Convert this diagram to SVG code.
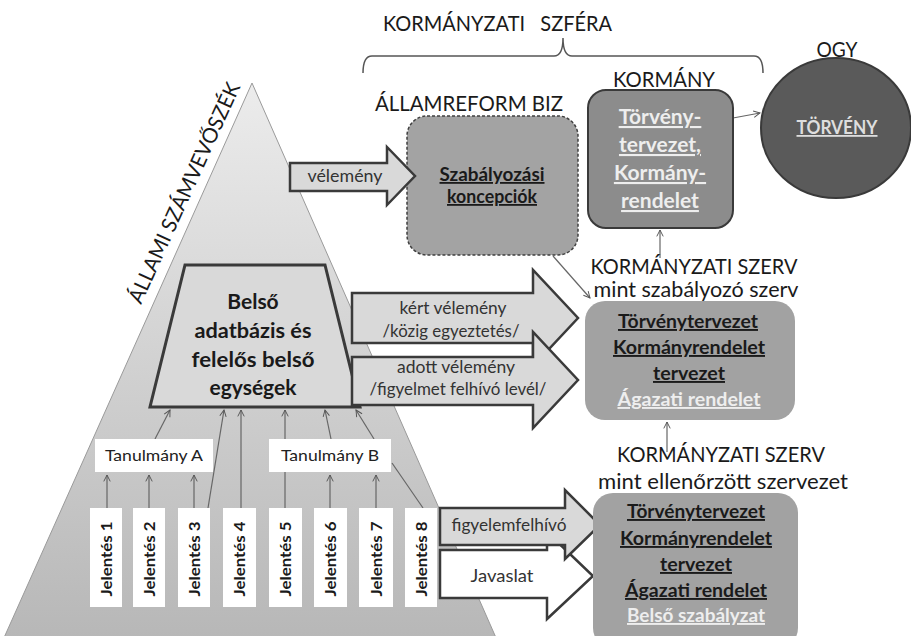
<svg xmlns="http://www.w3.org/2000/svg" width="911" height="636" viewBox="0 0 911 636">
<defs>
<linearGradient id="pyr" x1="0" y1="0" x2="0" y2="1">
<stop offset="0" stop-color="#ececec"/>
<stop offset="1" stop-color="#b7b7b7"/>
</linearGradient>
<marker id="ah" viewBox="0 0 10 10" refX="9" refY="5" markerWidth="8" markerHeight="8" orient="auto" markerUnits="userSpaceOnUse">
<path d="M1,1 L9,5 L1,9" fill="none" stroke="#555" stroke-width="1.2"/>
</marker>
<style>
text{font-family:Lato,"Open Sans","Liberation Sans",sans-serif;fill:#1a1a1a}
.big{font-size:21px;text-anchor:middle}
.ul{text-decoration:underline}
.wt{fill:#eeeeee}
.arr{fill:#d9d9d9;stroke:#3a3a3a;stroke-width:2.5;stroke-linejoin:miter}
.arrw{fill:#ffffff;stroke:#3a3a3a;stroke-width:2.5}
.atx{font-size:17px;fill:#333;text-anchor:middle}
.con{fill:none;stroke:#666;stroke-width:1.2}
.rep{fill:#fff}
.rtx{font-size:16px;font-weight:bold;text-anchor:middle}
.tan{font-size:15px;text-anchor:middle;fill:#222}
.bx{fill:#a2a2a2}
.btx{font-size:19px;font-weight:bold;text-anchor:middle;text-decoration:underline}
.kt{font-size:21px;font-weight:bold;text-anchor:middle;text-decoration:underline;fill:#eeeeee}
.bt{font-size:21px;font-weight:bold;text-anchor:middle}
</style>
</defs>
<rect width="911" height="636" fill="#fff"/>

<g id="pyramid">
<polygon points="252,83 497,640 3,640" fill="url(#pyr)" stroke="#9a9a9a" stroke-width="1"/>
<text transform="translate(141,305) rotate(-65.5)" font-size="21" textLength="240" lengthAdjust="spacingAndGlyphs">ÁLLAMI SZÁMVEVŐSZÉK</text>
</g>

<g id="sphere-title">
<text x="383" y="31" font-size="21" xml:space="preserve" textLength="229" lengthAdjust="spacingAndGlyphs">KORMÁNYZATI   SZFÉRA</text>
<path d="M363,73 Q363,56 372,56 L554,56 Q563,56 563,38 Q563,56 572,56 L754,56 Q763,56 763,73" fill="none" stroke="#555" stroke-width="1.5"/>
</g>

<g id="connectors">
<line class="con" x1="733" y1="118" x2="760" y2="113" marker-end="url(#ah)"/>
<line class="con" x1="660" y1="258" x2="660" y2="230" marker-end="url(#ah)"/>
<line class="con" x1="553" y1="256" x2="590" y2="298" marker-end="url(#ah)"/>
<line class="con" x1="667" y1="452" x2="667" y2="422" marker-end="url(#ah)"/>
<line class="con" x1="107" y1="508" x2="107" y2="475" marker-end="url(#ah)"/>
<line class="con" x1="149" y1="508" x2="149" y2="475" marker-end="url(#ah)"/>
<line class="con" x1="194" y1="508" x2="194" y2="475" marker-end="url(#ah)"/>
<line class="con" x1="330" y1="508" x2="330" y2="475" marker-end="url(#ah)"/>
<line class="con" x1="376" y1="508" x2="376" y2="475" marker-end="url(#ah)"/>
<line class="con" x1="208" y1="508" x2="224" y2="410" marker-end="url(#ah)"/>
<line class="con" x1="241" y1="508" x2="241" y2="410" marker-end="url(#ah)"/>
<line class="con" x1="285" y1="508" x2="285" y2="410" marker-end="url(#ah)"/>
<line class="con" x1="155" y1="439" x2="170" y2="410" marker-end="url(#ah)"/>
<line class="con" x1="331" y1="439" x2="325" y2="410" marker-end="url(#ah)"/>
<line class="con" x1="374" y1="439" x2="356" y2="410" marker-end="url(#ah)"/>
<line class="con" x1="392" y1="463" x2="423" y2="508"/>
</g>

<g id="allamreform">
<text x="469" y="111" class="big" textLength="188" lengthAdjust="spacingAndGlyphs">ÁLLAMREFORM BIZ</text>
<rect x="407" y="116" width="171" height="139" rx="20" fill="#a3a3a3" stroke="#404040" stroke-width="1.5" stroke-dasharray="3,2"/>
<text x="492" y="181" font-size="18" font-weight="bold" text-anchor="middle" class="ul" textLength="105" lengthAdjust="spacingAndGlyphs">Szabályozási</text>
<text x="492" y="203" font-size="18" font-weight="bold" text-anchor="middle" class="ul" textLength="90" lengthAdjust="spacingAndGlyphs">koncepciók</text>
</g>

<g id="kormany">
<text x="664" y="87" class="big" textLength="102" lengthAdjust="spacingAndGlyphs">KORMÁNY</text>
<rect x="588" y="90" width="145" height="138" rx="18" fill="#8c8c8c" stroke="#3a3a3a" stroke-width="2"/>
<text x="660" y="124" class="kt">Törvény-</text>
<text x="660" y="152" class="kt">tervezet,</text>
<text x="660" y="180" class="kt">Kormány-</text>
<text x="660" y="208" class="kt">rendelet</text>
</g>

<g id="ogy">
<text x="837" y="57" class="big" textLength="41" lengthAdjust="spacingAndGlyphs">OGY</text>
<ellipse cx="836" cy="128" rx="75" ry="70" fill="#5a5a5a" stroke="#3a3a3a" stroke-width="2"/>
<text x="837" y="134" font-size="18" font-weight="bold" text-anchor="middle" class="ul" style="fill:#dedede" textLength="81" lengthAdjust="spacingAndGlyphs">TÖRVÉNY</text>
</g>

<g id="arrow-velemeny">
<path class="arr" d="M290,163 L387,163 L387,147 L415,176 L387,205 L387,191 L290,191 Z"/>
<text x="345" y="182" class="atx" textLength="75" lengthAdjust="spacingAndGlyphs">vélemény</text>
</g>

<g id="belso">
<polygon points="185,265 325,265 360,407 150,407" fill="#d9d9d9" stroke="#3a3a3a" stroke-width="3"/>
<text x="253" y="309" class="bt">Belső</text>
<text x="253" y="338" class="bt" textLength="117" lengthAdjust="spacingAndGlyphs">adatbázis és</text>
<text x="253" y="367" class="bt" textLength="123" lengthAdjust="spacingAndGlyphs">felelős belső</text>
<text x="253" y="395" class="bt">egységek</text>
</g>

<g id="arrow-kert">
<path class="arr" d="M352,293 L533,293 L533,270 L578,318 L533,366 L533,343 L352,343 Z"/>
<text x="453" y="314" class="atx" textLength="107" lengthAdjust="spacingAndGlyphs">kért vélemény</text>
<text x="451" y="337" class="atx" textLength="137" lengthAdjust="spacingAndGlyphs">/közig egyeztetés/</text>
</g>
<g id="arrow-adott">
<path class="arr" d="M352,357 L533,357 L533,332 L578,380 L533,428 L533,405 L352,405 Z"/>
<text x="456" y="373" class="atx" textLength="118" lengthAdjust="spacingAndGlyphs">adott vélemény</text>
<text x="458" y="395" class="atx" textLength="177" lengthAdjust="spacingAndGlyphs">/figyelmet felhívó levél/</text>
</g>

<g id="tanulmany-a">
<rect x="95" y="439" width="118" height="33" class="rep"/>
<text x="154" y="461" class="tan" textLength="98" lengthAdjust="spacingAndGlyphs">Tanulmány A</text>
</g>
<g id="tanulmany-b">
<rect x="269" y="439" width="122" height="33" class="rep"/>
<text x="330" y="461" class="tan" textLength="98" lengthAdjust="spacingAndGlyphs">Tanulmány B</text>
</g>

<g id="jelentes-1"><rect x="90" y="508" width="32" height="99" class="rep"/><text transform="translate(112,559) rotate(-90)" class="rtx" textLength="75" lengthAdjust="spacingAndGlyphs">Jelentés 1</text></g>
<g id="jelentes-2"><rect x="133" y="508" width="32" height="99" class="rep"/><text transform="translate(155,559) rotate(-90)" class="rtx" textLength="75" lengthAdjust="spacingAndGlyphs">Jelentés 2</text></g>
<g id="jelentes-3"><rect x="178" y="508" width="32" height="99" class="rep"/><text transform="translate(200,559) rotate(-90)" class="rtx" textLength="75" lengthAdjust="spacingAndGlyphs">Jelentés 3</text></g>
<g id="jelentes-4"><rect x="223" y="508" width="33" height="99" class="rep"/><text transform="translate(245,559) rotate(-90)" class="rtx" textLength="75" lengthAdjust="spacingAndGlyphs">Jelentés 4</text></g>
<g id="jelentes-5"><rect x="269" y="508" width="33" height="99" class="rep"/><text transform="translate(291,559) rotate(-90)" class="rtx" textLength="75" lengthAdjust="spacingAndGlyphs">Jelentés 5</text></g>
<g id="jelentes-6"><rect x="314" y="508" width="33" height="99" class="rep"/><text transform="translate(336,559) rotate(-90)" class="rtx" textLength="75" lengthAdjust="spacingAndGlyphs">Jelentés 6</text></g>
<g id="jelentes-7"><rect x="359" y="508" width="34" height="99" class="rep"/><text transform="translate(382,559) rotate(-90)" class="rtx" textLength="75" lengthAdjust="spacingAndGlyphs">Jelentés 7</text></g>
<g id="jelentes-8"><rect x="405" y="508" width="32" height="99" class="rep"/><text transform="translate(427,559) rotate(-90)" class="rtx" textLength="75" lengthAdjust="spacingAndGlyphs">Jelentés 8</text></g>

<g id="arrow-javaslat">
<path class="arrw" d="M440,550 L547,550 L547,532 L593,576 L547,619 L547,598 L440,598 Z"/>
<text x="502" y="582" class="atx" textLength="63" lengthAdjust="spacingAndGlyphs">Javaslat</text>
</g>
<g id="arrow-figyelem">
<path class="arr" d="M440,508 L565,508 L565,490 L600,525 L565,559 L565,545 L440,545 Z"/>
<text x="509" y="531" class="atx" textLength="115" lengthAdjust="spacingAndGlyphs">figyelemfelhívó</text>
</g>

<g id="szerv-szabalyozo">
<text x="694" y="274" class="big" textLength="207" lengthAdjust="spacingAndGlyphs">KORMÁNYZATI SZERV</text>
<text x="696" y="297" class="big" textLength="205" lengthAdjust="spacingAndGlyphs">mint szabályozó szerv</text>
<rect x="585" y="301" width="210" height="119" rx="20" class="bx"/>
<text x="688" y="328" class="btx" textLength="140" lengthAdjust="spacingAndGlyphs">Törvénytervezet</text>
<text x="689" y="354" class="btx" textLength="152" lengthAdjust="spacingAndGlyphs">Kormányrendelet</text>
<text x="689" y="380" class="btx" textLength="72" lengthAdjust="spacingAndGlyphs">tervezet</text>
<text x="689" y="406" class="btx wt" textLength="143" lengthAdjust="spacingAndGlyphs">Ágazati rendelet</text>
</g>

<g id="szerv-ellenorzott">
<text x="721" y="462" class="big" textLength="208" lengthAdjust="spacingAndGlyphs">KORMÁNYZATI SZERV</text>
<text x="723" y="489" class="big" textLength="250" lengthAdjust="spacingAndGlyphs">mint ellenőrzött szervezet</text>
<rect x="593" y="493" width="205" height="155" rx="20" class="bx"/>
<text x="696" y="518" class="btx" textLength="138" lengthAdjust="spacingAndGlyphs">Törvénytervezet</text>
<text x="696" y="545" class="btx" textLength="152" lengthAdjust="spacingAndGlyphs">Kormányrendelet</text>
<text x="696" y="571" class="btx" textLength="72" lengthAdjust="spacingAndGlyphs">tervezet</text>
<text x="696" y="597" class="btx" textLength="142" lengthAdjust="spacingAndGlyphs">Ágazati rendelet</text>
<text x="696" y="622" class="btx wt" textLength="138" lengthAdjust="spacingAndGlyphs">Belső szabályzat</text>
</g>
</svg>
